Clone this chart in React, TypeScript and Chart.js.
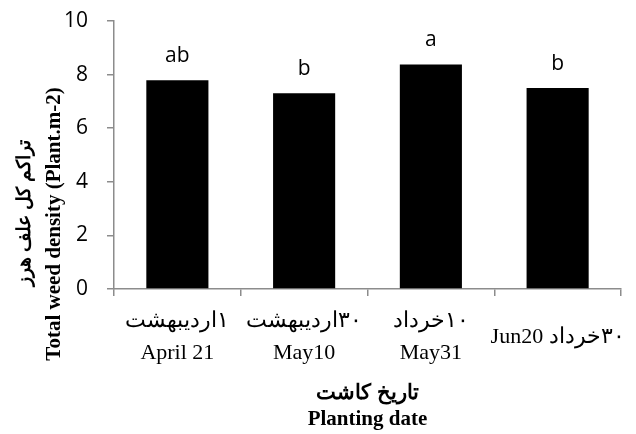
import React, { useEffect, useRef } from "react";
import { Chart, registerables } from "chart.js";

Chart.register(...registerables);

const RLE = "\u202B";
const PDF = "\u202C";

const categoryLabels: (string | string[])[] = [
  [RLE + "۱اردیبهشت" + PDF, "April 21"],
  [RLE + "۳۰اردیبهشت" + PDF, "May10"],
  [RLE + "۱۰خرداد" + PDF, "May31"],
  RLE + "۳۰خرداد Jun20" + PDF,
];
const densityValues = [7.79, 7.3, 8.38, 7.5];
const significanceLetters = ["ab", "b", "a", "b"];
const yTitleFa = "تراکم کل علف هرز";
const yTitleEn = "Total weed density (Plant.m-2)";
const xTitleLines = ["تاریخ کاشت", "Planting date"];
const yMin = 0;
const yMax = 10;
const yStep = 2;

const AXIS_COLOR = "#8c8c8c";
const SERIF = "'Liberation Serif', 'Times New Roman', serif";
const SANS = "'Open Sans', 'Liberation Sans', sans-serif";

const letterPlugin = {
  id: "sigLetters",
  afterDatasetsDraw(chart: any) {
    const ctx = chart.ctx;
    const meta = chart.getDatasetMeta(0);
    ctx.save();
    ctx.font = `21px ${SANS}`;
    ctx.fillStyle = "#000";
    ctx.textAlign = "center";
    ctx.textBaseline = "alphabetic";
    meta.data.forEach((bar: any, i: number) => {
      ctx.fillText(significanceLetters[i], bar.x, bar.y - 18);
    });
    ctx.restore();
  },
};

const yTitlePlugin = {
  id: "yTitleTwoLines",
  afterDraw(chart: any) {
    const ctx = chart.ctx;
    ctx.save();
    ctx.fillStyle = "#000";
    ctx.textAlign = "center";
    // Persian line
    ctx.save();
    ctx.translate(25, 213);
    ctx.rotate(-Math.PI / 2);
    ctx.font = `bold 19px ${SERIF}`;
    ctx.textBaseline = "middle";
    ctx.fillText(yTitleFa, 0, 0);
    ctx.restore();
    // English line
    ctx.save();
    ctx.translate(60, 224);
    ctx.rotate(-Math.PI / 2);
    ctx.font = `bold 21px ${SERIF}`;
    ctx.textBaseline = "alphabetic";
    ctx.fillText(yTitleEn, 0, 0);
    ctx.restore();
    ctx.restore();
  },
};

export default function App() {
  const canvasRef = useRef<HTMLCanvasElement | null>(null);

  useEffect(() => {
    if (!canvasRef.current) return;
    const chart = new Chart(canvasRef.current, {
      type: "bar",
      data: {
        labels: categoryLabels,
        datasets: [
          {
            data: densityValues,
            backgroundColor: "#000000",
            borderWidth: 0,
            barPercentage: 0.49,
            categoryPercentage: 1,
          },
        ],
      },
      options: {
        responsive: false,
        animation: false,
        layout: { padding: { left: 0, right: 15, top: 21, bottom: 0 } },
        plugins: {
          legend: { display: false },
          tooltip: { enabled: false },
          title: { display: false },
        },
        scales: {
          x: {
            grid: {
              display: true,
              drawOnChartArea: false,
              drawTicks: true,
              tickLength: 7,
              color: AXIS_COLOR,
              lineWidth: 1.5,
              offset: true,
            },
            border: { display: true, color: AXIS_COLOR, width: 1.5 },
            ticks: {
              color: "#000",
              font: { family: SERIF, size: 22, lineHeight: "32px" as any },
              padding: 25,
              maxRotation: 0,
              minRotation: 0,
              autoSkip: false,
              crossAlign: "center",
            },
            title: {
              display: true,
              text: xTitleLines,
              color: "#000",
              font: { family: SERIF, size: 21, weight: "bold", lineHeight: "26px" as any },
              padding: { top: 0, bottom: 1 },
            },
            afterFit(scale: any) {
              scale.height = 145;
              scale.paddingLeft = 0;
              scale.paddingRight = 0;
              scale.paddingTop = 0;
              scale.paddingBottom = 0;
            },
          },
          y: {
            min: yMin,
            max: yMax,
            ticks: {
              stepSize: yStep,
              color: "#000",
              font: { family: SANS, size: 21 },
              padding: 19,
            },
            grid: {
              display: true,
              drawOnChartArea: false,
              drawTicks: true,
              tickLength: 7,
              color: AXIS_COLOR,
              lineWidth: 1.5,
            },
            border: { display: true, color: AXIS_COLOR, width: 1.5 },
            afterFit(scale: any) {
              scale.width = 114;
              scale.paddingLeft = 0;
              scale.paddingRight = 0;
              scale.paddingTop = 0;
              scale.paddingBottom = 0;
            },
          },
        },
      },
      plugins: [letterPlugin, yTitlePlugin],
    });
    return () => chart.destroy();
  }, []);

  return (
    <div style={{ position: "absolute", left: 0, top: 0, width: 636, height: 434, background: "#fff" }}>
      <canvas ref={canvasRef} width={636} height={434} style={{ display: "block" }} />
    </div>
  );
}
